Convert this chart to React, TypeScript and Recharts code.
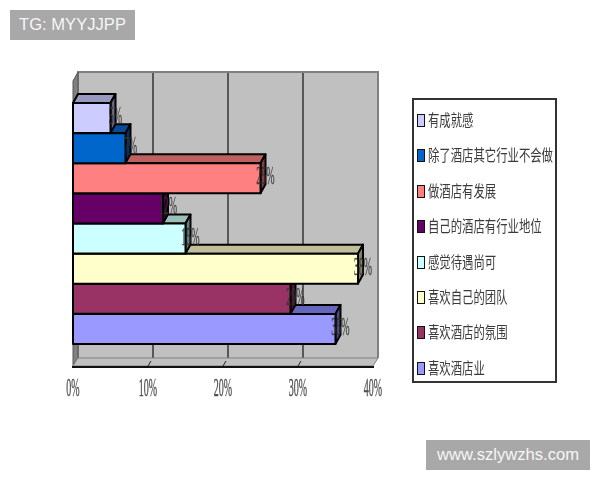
import React from 'react';
import { BarChart, Bar, XAxis, YAxis, CartesianGrid, LabelList, Legend, Cell } from 'recharts';

// series order as in the source sheet: first category sits at the bottom and is drawn first
const categories = [
  '喜欢酒店业',
  '喜欢酒店的氛围',
  '喜欢自己的团队',
  '感觉待遇尚可',
  '自己的酒店有行业地位',
  '做酒店有发展',
  '除了酒店其它行业不会做',
  '有成就感',
];
const values = [35, 29, 38, 15, 12, 25, 7, 5];
const colors = ['#9999FF', '#993366', '#FFFFCC', '#CCFFFF', '#660066', '#FF8080', '#0066CC', '#CCCCFF'];
const topColors = ['#6666BF', '#732650', '#BFBF99', '#99BFB8', '#4C004C', '#BF6060', '#054C99', '#9999BF'];
const sideColors = ['#4D4D80', '#4D1933', '#808066', '#668080', '#330033', '#804040', '#033366', '#666680'];
const xTicks = [0, 10, 20, 30, 40];

const data = categories.map((name, i) => ({ name, value: values[i] }));

const DX = 5;
const DY = -9;
const labelFont = '"Liberation Serif", serif';

function Bar3D(props: any) {
  const { x, y, width, height, fill, index } = props;
  const r = x + width;
  const b = y + height;
  return (
    <g stroke="#000" strokeWidth={2} strokeLinejoin="round">
      <polygon points={`${x},${y} ${x + DX},${y + DY} ${r + DX},${y + DY} ${r},${y}`} fill={topColors[index]} />
      <polygon points={`${r},${y} ${r + DX},${y + DY} ${r + DX},${b + DY} ${r},${b}`} fill={sideColors[index]} />
      <rect x={x} y={y} width={width} height={height} fill={fill} />
    </g>
  );
}

function BarLabel(props: any) {
  const { x, y, width, height, value } = props;
  return (
    <text
      transform={`translate(${x + width + 5},${y + height / 2 + 6}) scale(0.4,1)`}
      textAnchor="middle"
      fontFamily={labelFont}
      fontSize={25}
      fill="#333"
      stroke="#333"
      strokeWidth={0.4}
      opacity={0.85}
      style={{ filter: 'blur(0.3px)' }}
    >
      {value}%
    </text>
  );
}

function XTick(props: any) {
  const { x, payload } = props;
  const inner = payload.value > 0 && payload.value < 40;
  return (
    <g>
      {inner && <line x1={x} y1={366} x2={x + 3} y2={361} stroke="#222" strokeWidth={1} />}
      <text
        transform={`translate(${x},396) scale(0.4,1)`}
        textAnchor="middle"
        fontFamily={labelFont}
        fontSize={25}
        fill="#333"
        stroke="#333"
        strokeWidth={0.4}
        opacity={0.85}
        style={{ filter: 'blur(0.3px)' }}
      >
        {payload.value}%
      </text>
    </g>
  );
}

function GridLine(props: any) {
  const { x1 } = props;
  if (x1 <= 73.5 || x1 >= 372.5) return <g />;
  return <line x1={x1 + DX} y1={72} x2={x1 + DX} y2={358} stroke="#111" strokeWidth={1.2} />;
}

function LegendBox() {
  return (
    <div
      style={{
        boxSizing: 'border-box',
        width: 145,
        height: 285,
        border: '2px solid #333',
        background: '#fff',
        paddingTop: 4,
      }}
    >
      {categories.map((_, j) => {
        const i = categories.length - 1 - j;
        return (
          <div key={categories[i]} style={{ position: 'relative', height: 35.4 }}>
            <span
              style={{
                position: 'absolute',
                left: 3,
                top: 10,
                width: 6,
                height: 11,
                background: colors[i],
                border: '1.5px solid #111',
              }}
            />
            <span
              style={{
                position: 'absolute',
                left: 14,
                top: 4,
                whiteSpace: 'nowrap',
                fontFamily: '"Noto Sans CJK SC"',
                fontSize: 16,
                lineHeight: '22px',
                color: '#3a3a3a',
                transform: 'scaleX(0.71)',
                transformOrigin: 'left center',
              }}
            >
              {categories[i]}
            </span>
          </div>
        );
      })}
    </div>
  );
}

const tagStyle: React.CSSProperties = {
  position: 'absolute',
  background: '#a8a8a8',
  color: '#f6f6f6',
  fontFamily: '"Liberation Sans", sans-serif',
  fontSize: 16.6,
  lineHeight: '30px',
  textAlign: 'center',
  height: 30,
};

export default function App() {
  return (
    <div style={{ position: 'absolute', left: 0, top: 0, width: 600, height: 480, background: '#fff' }}>
      <BarChart
        width={600}
        height={480}
        data={data}
        layout="vertical"
        barCategoryGap={0}
        margin={{ top: 103, right: 227, bottom: 96, left: 73 }}
      >
        <CartesianGrid
          x={78}
          y={72}
          width={300}
          height={286}
          fill="#c0c0c0"
          fillOpacity={1}
          horizontal={false}
          vertical={GridLine}
          verticalValues={xTicks}
        />
        <polyline points="78,358 78,72 378,72 378,358" fill="none" stroke="#808080" strokeWidth={2} />
        <polygon points="73,81 78,72 78,358 73,366" fill="#808080" stroke="#555" />
        <polygon points="73,366 78,358 378,358 373,366" fill="#c0c0c0" stroke="#808080" />
        <line x1={72} y1={367} x2={374} y2={367} stroke="#111" strokeWidth={2} />
        <XAxis
          type="number"
          domain={[0, 40]}
          ticks={xTicks}
          height={40}
          axisLine={false}
          tickLine={false}
          tick={XTick}
          interval={0}
        />
        <YAxis type="category" dataKey="name" hide reversed />
        <Legend
          layout="vertical"
          align="center"
          verticalAlign="middle"
          content={LegendBox}
          wrapperStyle={{ left: 412, top: 98, width: 145, height: 285 }}
        />
        <Bar dataKey="value" shape={Bar3D} isAnimationActive={false}>
          {data.map((d, i) => (
            <Cell key={d.name} fill={colors[i]} />
          ))}
          <LabelList dataKey="value" content={BarLabel} />
        </Bar>
      </BarChart>
      <div style={{ ...tagStyle, left: 10, top: 10, width: 125 }}>TG: MYYJJPP</div>
      <div style={{ ...tagStyle, left: 426, top: 440, width: 164 }}>www.szlywzhs.com</div>
    </div>
  );
}
